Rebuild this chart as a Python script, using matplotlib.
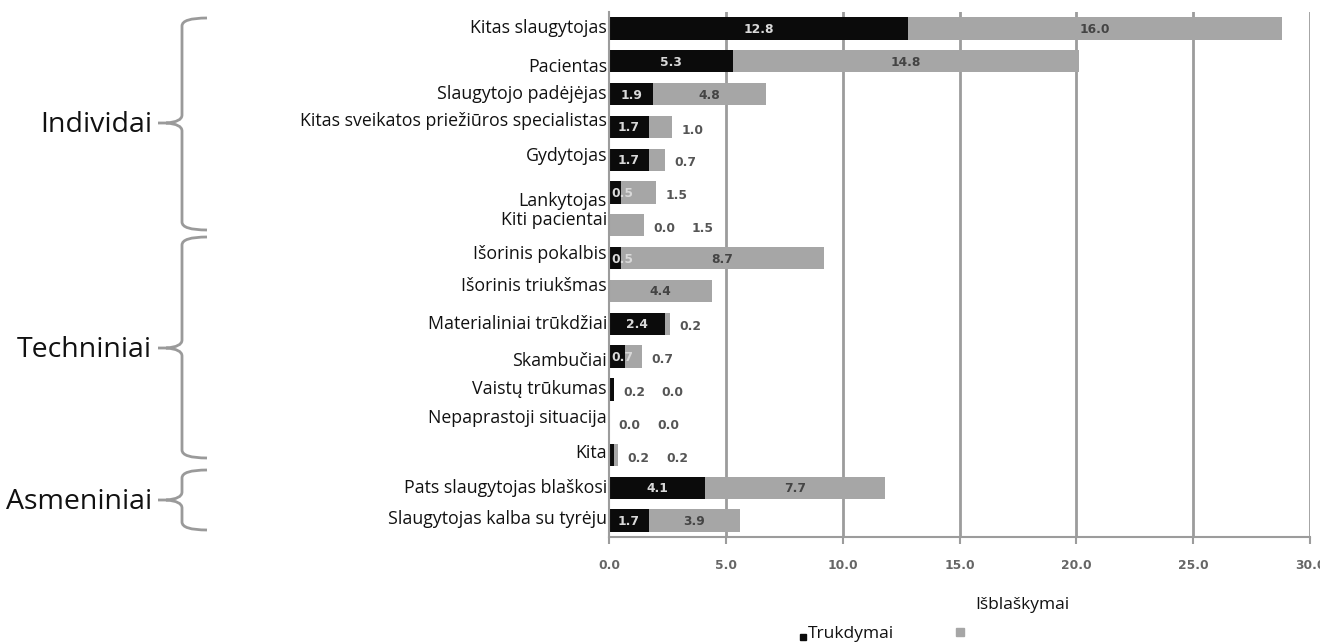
import matplotlib
matplotlib.use("Agg")
import matplotlib.pyplot as plt
from matplotlib.path import Path
from matplotlib.patches import PathPatch
from matplotlib.lines import Line2D

categories = [
    "Kitas slaugytojas", "Pacientas", "Slaugytojo padėjėjas",
    "Kitas sveikatos priežiūros specialistas", "Gydytojas", "Lankytojas",
    "Kiti pacientai", "Išorinis pokalbis", "Išorinis triukšmas",
    "Materialiniai trūkdžiai", "Skambučiai", "Vaistų trūkumas",
    "Nepaprastoji situacija", "Kita", "Pats slaugytojas blaškosi",
    "Slaugytojas kalba su tyrėju",
]
trukdymai = [12.8, 5.3, 1.9, 1.7, 1.7, 0.5, 0.0, 0.5, 0.0, 2.4, 0.7, 0.2, 0.0, 0.2, 4.1, 1.7]
isblaskymai = [16.0, 14.8, 4.8, 1.0, 0.7, 1.5, 1.5, 8.7, 4.4, 0.2, 0.7, 0.0, 0.0, 0.2, 7.7, 3.9]
trukdymai_labels = ["12.8", "5.3", "1.9", "1.7", "1.7", "0.5", "0.0", "0.5", "", "2.4",
                    "0.7", "0.2", "0.0", "0.2", "4.1", "1.7"]
isblaskymai_labels = [f"{v:.1f}" for v in isblaskymai]
groups = ["Individai", "Techniniai", "Asmeniniai"]
xticks = [0, 5, 10, 15, 20, 25, 30]
legend_labels = ["Trukdymai", "Išblaškymai"]

# layout (label vertical offsets, in row units)
label_offsets = [0, 0.18, 0, -0.18, -0.1, 0.27, -0.15, -0.12, -0.15, 0, 0.15, 0, -0.12, -0.05, 0.02, -0.05]

W, H = 1320, 644
fig = plt.figure(figsize=(W / 100, H / 100), dpi=100)
fig.patch.set_facecolor("white")
ax = fig.add_axes([609 / W, 1 - 537 / H, (1310 - 609) / W, (537 - 12) / H])

BLACK = "#0b0b0b"
GRAY = "#a6a6a6"
GRID = "#9c9c9c"

n = len(categories)
ys = list(range(n))
ax.set_xlim(0, 30)
ax.set_ylim(n - 0.5, -0.5)

for x in xticks[1:]:
    ax.axvline(x, color=GRID, lw=2, zorder=0)

ax.barh(ys, trukdymai, height=0.68, color=BLACK, zorder=2)
ax.barh(ys, isblaskymai, left=trukdymai, height=0.68, color=GRAY, zorder=2)

fs_val = 8.8
for i in ys:
    b, g = trukdymai[i], isblaskymai[i]
    end = b + g
    outside = []
    if trukdymai_labels[i]:
        if b >= 1.0:
            ax.text(b / 2, i + 0.03, trukdymai_labels[i], ha="center", va="center",
                    color="#d9d9d9", fontsize=fs_val, fontweight="bold", zorder=3)
        elif b >= 0.5:
            ax.text(0.1, i + 0.03, trukdymai_labels[i], ha="left", va="center",
                    color="#d9d9d9", fontsize=fs_val, fontweight="bold", zorder=3)
        else:
            outside.append(trukdymai_labels[i])
    if g >= 2.0:
        ax.text(b + g / 2, i + 0.03, isblaskymai_labels[i], ha="center", va="center",
                color="#444444", fontsize=fs_val, fontweight="bold", zorder=3)
    else:
        outside.append(isblaskymai_labels[i])
    xpos = end + 0.4
    for lab in outside:
        ax.text(xpos, i + 0.1, lab, ha="left", va="center", color="#555555",
                fontsize=fs_val, fontweight="bold", zorder=3)
        xpos += 1.65

ax.set_yticks([])
for i, c in enumerate(categories):
    ax.text(-0.003, i + label_offsets[i], c, transform=ax.get_yaxis_transform(),
            ha="right", va="center", fontsize=12.8, family="Open Sans", color="#111111")

ax.set_xticks(xticks)
ax.set_xticklabels([f"{x:.1f}" for x in xticks], fontsize=8.8, color="#666666", fontweight="bold")
ax.tick_params(axis="x", length=5, width=1.5, color=GRID, pad=11)
for s in ["top", "right"]:
    ax.spines[s].set_visible(False)
ax.spines["left"].set_color(GRID)
ax.spines["left"].set_linewidth(1.5)
ax.spines["bottom"].set_color(GRID)
ax.spines["bottom"].set_linewidth(1.5)

def px(x, y):
    return (x / W, 1 - y / H)

brace_px = [(18, 123, 230), (237, 348, 458), (470, 500, 530)]
for (top, tip, bot), name in zip(brace_px, groups):
    xs_end, xs_spine, xs_tip = 207, 182, 158
    verts = [
        px(xs_end, top), px(xs_spine, top), px(xs_spine, top + 8),
        px(xs_spine, tip - 8), px(xs_spine, tip - 1), px(xs_tip + 8, tip),
        px(xs_tip, tip),
        px(xs_tip + 8, tip), px(xs_spine, tip + 1), px(xs_spine, tip + 8),
        px(xs_spine, bot - 8), px(xs_spine, bot), px(xs_end, bot),
    ]
    codes = [Path.MOVETO, Path.CURVE3, Path.CURVE3,
             Path.LINETO, Path.CURVE3, Path.CURVE3,
             Path.LINETO,
             Path.MOVETO, Path.CURVE3, Path.CURVE3,
             Path.LINETO, Path.CURVE3, Path.CURVE3]
    fig.add_artist(PathPatch(Path(verts, codes), transform=fig.transFigure,
                             fill=False, edgecolor="#9a9a9a", lw=2))
    fig.text(*px(152, tip + 2), name, ha="right", va="center", fontsize=20.5,
             family="Open Sans", color="#111111")

# legend
fig.add_artist(Line2D([803 / W], [1 - 637 / H], marker="s", markersize=4,
                      color=BLACK, transform=fig.transFigure))
fig.text(*px(808, 634), legend_labels[0], ha="left", va="center", fontsize=12.5,
         family="Open Sans", color="#111111")
fig.add_artist(Line2D([960 / W], [1 - 632 / H], marker="s", markersize=6,
                      color=GRAY, transform=fig.transFigure))
fig.text(*px(975, 605), legend_labels[1], ha="left", va="center", fontsize=12.5,
         family="Open Sans", color="#111111")

fig.savefig("out.png", dpi=100, facecolor="white")
